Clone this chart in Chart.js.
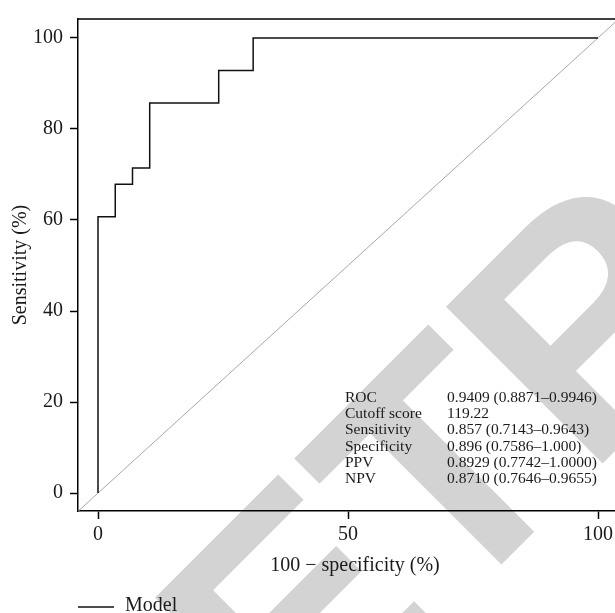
<!DOCTYPE html>
<html>
<head>
<meta charset="utf-8">
<script src="https://cdn.jsdelivr.net/npm/chart.js@4.4.1/dist/chart.umd.min.js"></script>
<style>
  html, body { margin: 0; padding: 0; background: #fff; overflow: hidden; }
  #wrap { width: 640px; height: 613px; }
</style>
</head>
<body>
<div id="wrap"><canvas id="roc-chart"></canvas></div>
<script>
// ROC curve corners (100 - specificity, sensitivity)
const falsePositiveRate = [0, 0, 3.45, 3.45, 6.9, 6.9, 10.34, 10.34, 24.14, 24.14, 31.03, 31.03, 100];
const truePositiveRate = [0, 60.71, 60.71, 67.86, 67.86, 71.43, 71.43, 85.71, 85.71, 92.86, 92.86, 100, 100];
const chanceLine = [-5, 110];
const xTicks = [0, 50, 100];
const yTicks = [0, 20, 40, 60, 80, 100];
const statLabels = ['ROC', 'Cutoff score', 'Sensitivity', 'Specificity', 'PPV', 'NPV'];
const statValues = [
  '0.9409 (0.8871–0.9946)',
  '119.22',
  '0.857 (0.7143–0.9643)',
  '0.896 (0.7586–1.000)',
  '0.8929 (0.7742–1.0000)',
  '0.8710 (0.7646–0.9655)',
];
const watermark = 'RETRACTED';

const serif = '"Liberation Serif", "Times New Roman", serif';
const ink = '#1a1a1a';

const extras = {
  id: 'extras',
  beforeDraw(chart) {
    const { ctx } = chart;
    ctx.save();
    ctx.translate(132, 934);
    ctx.rotate(-Math.PI / 4);
    ctx.font = 'bold 322px "Liberation Sans", Arial, sans-serif';
    ctx.fillStyle = '#d3d3d3';
    ctx.textBaseline = 'alphabetic';
    ctx.fillText(watermark, 0, 0);
    ctx.restore();
  },
  afterDraw(chart) {
    const { ctx, chartArea, scales } = chart;
    ctx.save();
    // top frame
    ctx.strokeStyle = '#000';
    ctx.lineWidth = 1.5;
    ctx.beginPath();
    ctx.moveTo(chartArea.left, chartArea.top);
    ctx.lineTo(chartArea.right, chartArea.top);
    ctx.lineTo(chartArea.right, chartArea.bottom);
    ctx.stroke();

    // stats table
    ctx.font = '15.5px ' + serif;
    ctx.fillStyle = ink;
    ctx.textBaseline = 'middle';
    const labelX = scales.x.getPixelForValue(49.4);
    const valueX = scales.x.getPixelForValue(69.8);
    const y0 = scales.y.getPixelForValue(20.96);
    statLabels.forEach((lab, i) => {
      ctx.fillText(lab, labelX, y0 + i * 16.3);
      ctx.fillText(statValues[i], valueX, y0 + i * 16.3);
    });

    // legend
    const ds = chart.data.datasets[0];
    const ly = chart.height - 6;
    ctx.strokeStyle = ds.borderColor;
    ctx.lineWidth = ds.borderWidth;
    ctx.beginPath();
    ctx.moveTo(chartArea.left, ly);
    ctx.lineTo(chartArea.left + 36, ly);
    ctx.stroke();
    ctx.font = '20px ' + serif;
    ctx.fillText(ds.label, chartArea.left + 47, ly - 1);
    ctx.restore();
  },
};

const ctx = document.getElementById('roc-chart').getContext('2d');
new Chart(ctx, {
  type: 'line',
  data: {
    datasets: [
      {
        label: 'Model',
        data: falsePositiveRate.map((x, i) => ({ x, y: truePositiveRate[i] })),
        borderColor: '#111',
        borderWidth: 1.5,
        pointRadius: 0,
        fill: false,
        tension: 0,
        order: 0,
      },
      {
        label: 'Reference',
        data: chanceLine.map((v) => ({ x: v, y: v })),
        borderColor: '#a8a8a8',
        borderWidth: 1,
        pointRadius: 0,
        fill: false,
        order: 1,
      },
    ],
  },
  options: {
    responsive: true,
    maintainAspectRatio: false,
    animation: false,
    layout: {
      padding: { top: 16, right: 8, bottom: 0, left: 0 },
    },
    plugins: {
      legend: { display: false },
      tooltip: { enabled: false },
    },
    scales: {
      x: {
        type: 'linear',
        min: -4,
        max: 106.8,
        afterBuildTicks(scale) {
          scale.ticks = xTicks.map((value) => ({ value }));
        },
        afterFit(scale) {
          scale.height = 102;
        },
        grid: {
          drawOnChartArea: false,
          drawTicks: true,
          tickLength: 8,
          tickColor: '#000',
          tickWidth: 1.5,
        },
        border: { color: '#000', width: 1.5 },
        ticks: {
          color: ink,
          padding: 4,
          maxRotation: 0,
          font: { family: serif, size: 20 },
        },
        title: {
          display: true,
          text: '100 − specificity (%)',
          color: ink,
          font: { family: serif, size: 20 },
          padding: { top: 0, bottom: 35 },
        },
      },
      y: {
        type: 'linear',
        min: -3.93,
        max: 104.15,
        afterBuildTicks(scale) {
          scale.ticks = yTicks.map((value) => ({ value }));
        },
        afterFit(scale) {
          scale.width = 78;
        },
        grid: {
          drawOnChartArea: false,
          drawTicks: true,
          tickLength: 8,
          tickColor: '#000',
          tickWidth: 1.5,
        },
        border: { color: '#000', width: 1.5 },
        ticks: {
          color: ink,
          padding: 7,
          font: { family: serif, size: 20 },
        },
        title: {
          display: true,
          text: 'Sensitivity (%)',
          color: ink,
          font: { family: serif, size: 20 },
          padding: { top: 9, bottom: 0 },
        },
      },
    },
  },
  plugins: [extras],
});
</script>
</body>
</html>
